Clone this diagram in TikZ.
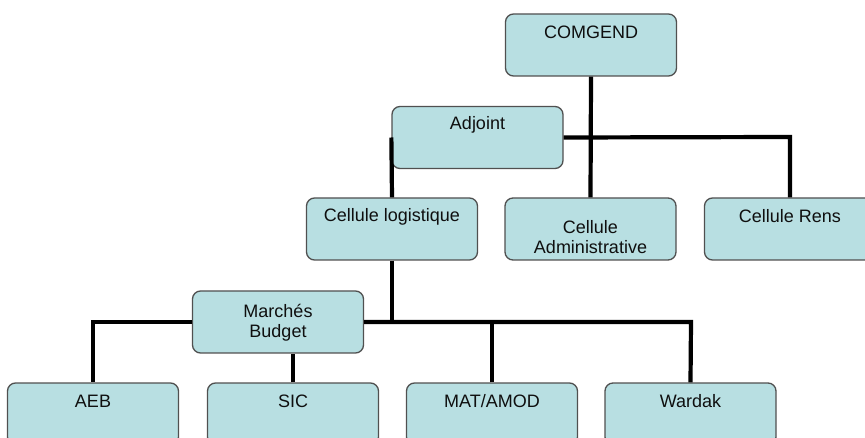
\documentclass[tikz,border=0pt]{standalone}
\usepackage{fontspec}
\setmainfont{Liberation Sans}
\usetikzlibrary{calc}
\definecolor{boxfill}{RGB}{184,223,226}
\definecolor{boxline}{RGB}{80,80,80}
\definecolor{txt}{RGB}{15,15,15}
\begin{document}
\begin{tikzpicture}[x=1pt,y=-1pt,
  orgbox/.style={draw=boxline, fill=boxfill, rounded corners=8pt, line width=1.3pt,
    minimum width=171pt, minimum height=62pt, inner sep=0pt},
  lbl/.style={text=txt, font=\fontsize{18}{20}\selectfont, align=center, inner sep=0pt},
  conn/.style={line width=4.2pt, black}]
\useasboundingbox (0,0) rectangle (865,438);
\clip (0,0) rectangle (865,438);
\coordinate (jr) at (790,137);
\coordinate (jl) at (93,322);
\coordinate (jw) at (691,322);
% boxes
\node[orgbox] (C) at (591,45) {};
\node[orgbox] (A) at (477.5,137.5) {};
\node[orgbox] (L) at (392,229) {};
\node[orgbox] (AD) at (590.5,229) {};
\node[orgbox] (R) at (790,229) {};
\node[orgbox] (M) at (278,322) {};
\node[orgbox] (AEB) at (93,414) {};
\node[orgbox] (SIC) at (293,414) {};
\node[orgbox] (MAT) at (492,414) {};
\node[orgbox] (W) at (690.5,414) {};
% connectors
\draw[conn] (C.south) -- (AD.north);
\draw[conn] (A.east) -- (jr) -- (R.north);
\draw[conn] (A.west) -- (L.north);
\draw[conn] (L.south) -- (L.south |- M.east) -- (M.east);
\draw[conn] (M.east) -- (jw) -- (W.north);
\draw[conn] (MAT.north) -- (MAT.north |- M.east);
\draw[conn] (M.west) -- (jl) -- (AEB.north);
\draw[conn] (SIC.north) -- (SIC.north |- M.south);
% labels
\node[lbl] (tC) at ($(C.north)+(0,19)$) {COMGEND};
\node[lbl] (tA) at ($(A.north)+(0,19)$) {Adjoint};
\node[lbl] (tL) at ($(L.north)+(0,19)$) {Cellule logistique};
\node[lbl] (tAD) at ($(AD.north)+(0,40)$) {Cellule\\Administrative};
\node[lbl] (tR) at ($(R.north)+(0,19)$) {Cellule Rens};
\node[lbl] (tM) at ($(M.center)+(0,1)$) {Marchés\\Budget};
\node[lbl] (tAEB) at ($(AEB.north)+(0,19)$) {AEB};
\node[lbl] (tSIC) at ($(SIC.north)+(0,19)$) {SIC};
\node[lbl] (tMAT) at ($(MAT.north)+(0,19)$) {MAT/AMOD};
\node[lbl] (tW) at ($(W.north)+(0,19)$) {Wardak};
\end{tikzpicture}
\end{document}
